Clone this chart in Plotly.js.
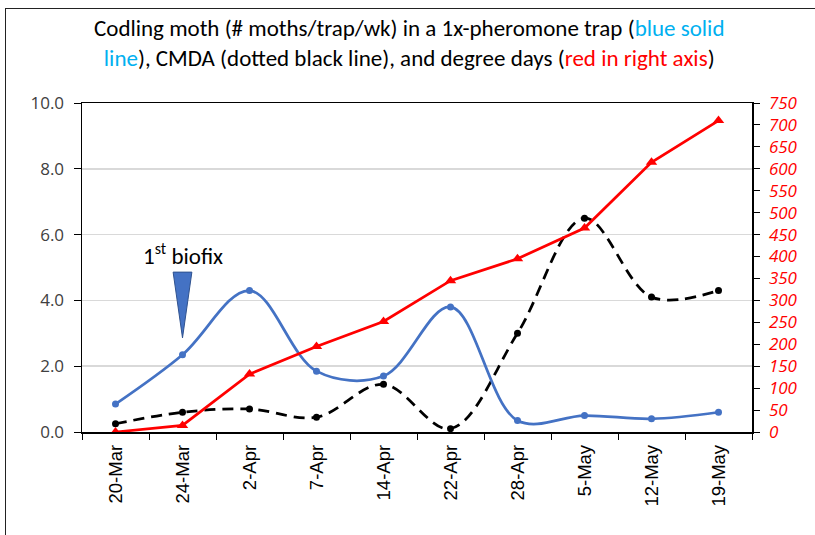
<!DOCTYPE html>
<html>
<head>
<meta charset="utf-8">
<script src="https://cdn.plot.ly/plotly-3.0.1.min.js"></script>
<style>
html,body{margin:0;padding:0;background:#fff;}
#wrap{position:relative;width:815px;height:535px;overflow:hidden;}
#chart{position:absolute;left:0;top:0;width:815px;height:535px;}
#frame{position:absolute;left:5px;top:8px;width:830px;height:560px;border-left:1.5px solid #222;border-top:1.5px solid #222;pointer-events:none;}
</style>
</head>
<body>
<div id="wrap"><div id="chart"></div><div id="frame"></div></div>
<script>
const dates = ["20-Mar","24-Mar","2-Apr","7-Apr","14-Apr","22-Apr","28-Apr","5-May","12-May","19-May"];
const mothsTrap = [0.85, 2.35, 4.3, 1.85, 1.7, 3.8, 0.35, 0.5, 0.4, 0.6];
const cmda = [0.25, 0.6, 0.7, 0.45, 1.45, 0.1, 3.0, 6.5, 4.1, 4.3];
const degreeDays = [0, 15, 132, 195, 252, 345, 395, 465, 615, 710];
const leftTicks = [0, 2, 4, 6, 8, 10];
const rightTicks = [0,50,100,150,200,250,300,350,400,450,500,550,600,650,700,750];

const TFONT = "Carlito, 'Liberation Sans Narrow', 'Open Sans', sans-serif";
const AFONT = "'Open Sans', 'DejaVu Sans', sans-serif";
const XFONT = "'Liberation Sans', Arial, sans-serif";

const traces = [
  {x: dates, y: degreeDays, yaxis: 'y2', type: 'scatter', mode: 'lines+markers',
   line: {color: '#FF0000', width: 2.75}, marker: {symbol: 'triangle-up', size: 10, color: '#FF0000'}, name: 'Degree days'},
  {x: dates, y: cmda, type: 'scatter', mode: 'lines+markers',
   line: {color: '#000000', width: 2.75, dash: '11px,7px', shape: 'spline', smoothing: 1}, marker: {size: 7, color: '#000000'}, name: 'CMDA'},
  {x: dates, y: mothsTrap, type: 'scatter', mode: 'lines+markers',
   line: {color: '#4472C4', width: 2.75, shape: 'spline', smoothing: 1}, marker: {size: 7, color: '#4472C4'}, name: 'Moths/trap'}
];

const layout = {
  width: 815, height: 535,
  margin: {l: 82, r: 63, t: 103, b: 103},
  paper_bgcolor: '#fff', plot_bgcolor: '#fff',
  showlegend: false,
  font: {family: AFONT, color: '#000'},
  xaxis: {
    type: 'category', tickangle: -90, showline: true, linecolor: '#000', linewidth: 1.5, mirror: true,
    ticks: 'outside', ticklen: 6, tickcolor: '#000', tickson: 'boundaries', showgrid: false,
    tickfont: {family: XFONT, size: 18.5, color: '#000'}, range: [-0.5, 9.5], fixedrange: true,
    ticklabelstandoff: 4
  },
  yaxis: {
    range: [0, 10], tickvals: leftTicks, tickformat: '.1f', showline: true, linecolor: '#000', linewidth: 1.5,
    ticks: 'outside', ticklen: 7, tickcolor: '#000', showgrid: true, gridcolor: '#D9D9D9', gridwidth: 1.5,
    zeroline: false, tickfont: {family: AFONT, size: 17, color: '#404040'}, ticklabelstandoff: 6
  },
  yaxis2: {
    range: [0, 750], tickvals: rightTicks, overlaying: 'y', side: 'right', showline: true, linecolor: '#000', linewidth: 1.5,
    ticks: 'outside', ticklen: 6, tickcolor: '#000', showgrid: false, zeroline: false,
    tickfont: {family: AFONT, size: 17, color: '#FF0000', style: 'italic'}, ticklabelstandoff: 6
  },
  shapes: [
    {type: 'path', xref: 'x', yref: 'y', path: 'M 0.86,4.86 L 1.14,4.86 L 1.0,2.86 Z',
     fillcolor: '#4472C4', line: {color: '#2F528F', width: 1}}
  ],
  annotations: [
    {text: "Codling moth (# moths/trap/wk) in a 1x-pheromone trap (<span style='color:#00B0F0'>blue solid</span><br><span style='color:#00B0F0'>line</span>), CMDA (dotted black line), and degree days (<span style='color:#FF0000'>red in right axis</span>)",
     xref: 'paper', yref: 'paper', x: 0.488, y: 1.182, xanchor: 'center', yanchor: 'middle', showarrow: false,
     font: {family: TFONT, size: 23, color: '#000'}},
    {text: "1<sup>st</sup> biofix", xref: 'x', yref: 'y', x: 1, y: 5.4, showarrow: false,
     font: {family: TFONT, size: 23, color: '#000'}, xanchor: 'center', yanchor: 'middle'}
  ]
};

Plotly.newPlot('chart', traces, layout, {displayModeBar: false, staticPlot: true});
</script>
</body>
</html>
